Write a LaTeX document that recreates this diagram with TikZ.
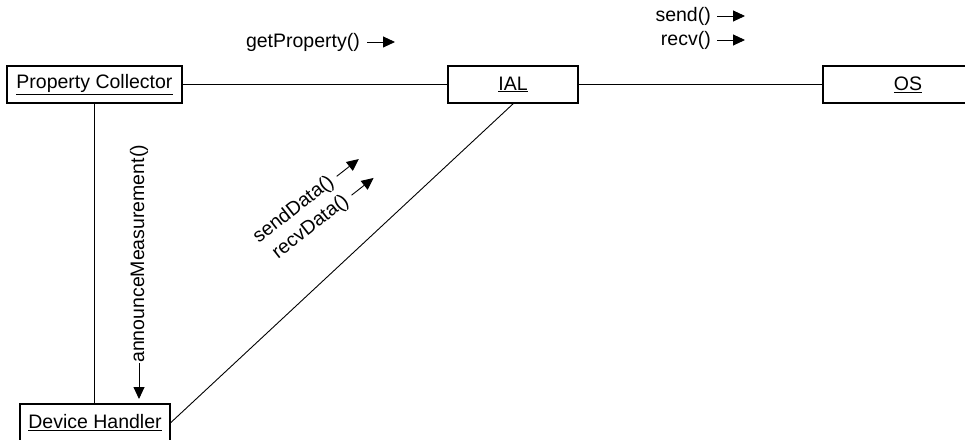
\documentclass[tikz,border=0pt]{standalone}
\usepackage{fontspec}
\setmainfont{Liberation Sans}
\usetikzlibrary{arrows.meta}

\begin{document}
\begin{tikzpicture}[x=1pt,y=1pt,>={Triangle[length=12pt,width=11pt]},
  font=\fontsize{19.5}{23}\selectfont,
  obj/.style={draw,line width=1.8pt,minimum height=37pt,inner sep=0pt},
  lbl/.style={inner sep=0pt},
  msg/.style={->,line width=0.9pt},
  link/.style={line width=0.9pt}]
 \useasboundingbox (0,0) rectangle (965,439);
 \clip (0,0) rectangle (965,439);
 \node[obj,minimum width=175pt] (pc) at (94.5,354.5) {\underline{Property Collector}};
 \node[obj,minimum width=130pt] (ial) at (513,354.5) {\underline{IAL}};
 \node[obj,minimum width=170pt] (os) at (908,354.5) {\underline{OS}};
 \node[obj,minimum width=150pt] (dh) at (95,16.5) {\underline{Device Handler}};
 \draw[link] (pc) -- (ial);
 \draw[link] (ial) -- (os);
 \draw[link] (pc.south) -- (pc.south |- dh.north);
 \draw[link] (ial.south) -- (dh.east);
 \node[lbl,anchor=east] (gp) at (360,397) {getProperty()};
 \draw[msg] ([xshift=7pt]gp.east) -- ++(28,0);
 \node[lbl,anchor=east] (snd) at (711,423) {send()};
 \node[lbl,anchor=east] (rcv) at (711,399) {recv()};
 \draw[msg] ([xshift=6pt]snd.east) -- ++(28,0);
 \draw[msg] ([xshift=6pt]rcv.east) -- ++(28,0);
 \node[lbl,rotate=90,anchor=west] (am) at (139,76) {announceMeasurement()};
 \draw[msg] (am.west) -- ++(0,-36);
 \node[lbl,rotate=38,anchor=east] (sd) at (332,259) {sendData()};
 \node[lbl,rotate=38,anchor=east] (rd) at (346.8,240.1) {recvData()};
 \draw[msg] ([shift={(38:6)}]sd.east) -- ++(38:28);
 \draw[msg] ([shift={(38:6)}]rd.east) -- ++(38:28);
\end{tikzpicture}
\end{document}
